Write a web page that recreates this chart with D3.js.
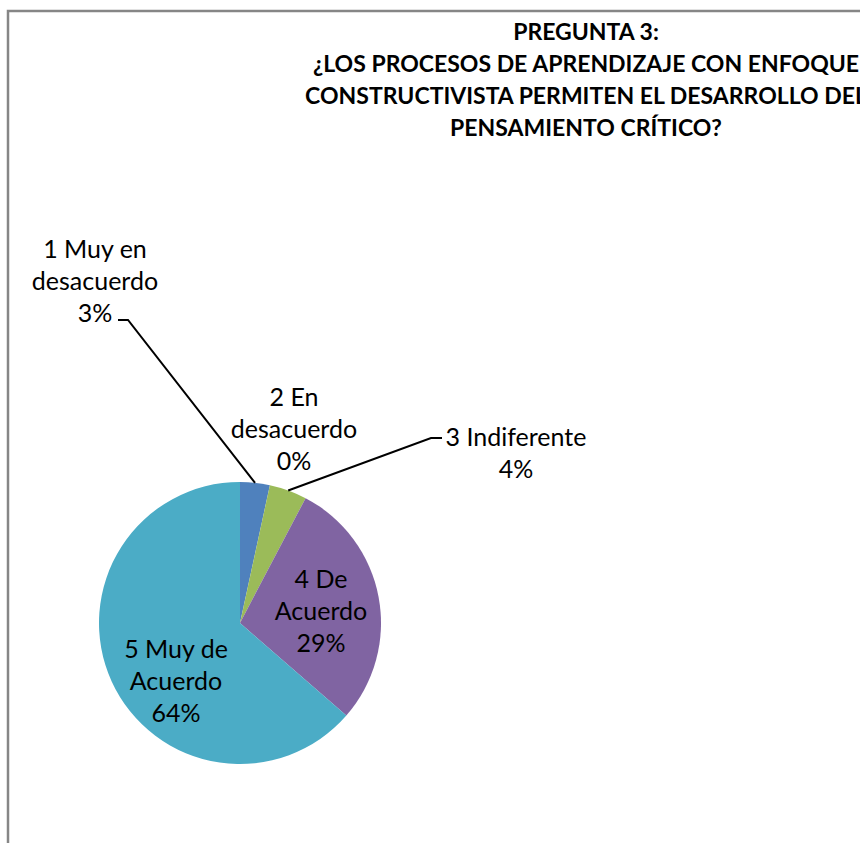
<!DOCTYPE html>
<html><head><meta charset="utf-8">
<script src="https://cdn.jsdelivr.net/npm/d3@7"></script>
<style>body{margin:0;background:#fff;overflow:hidden}svg{display:block}</style>
</head><body>
<svg id="c" width="860" height="843"></svg>
<script>
const titleLines = ["PREGUNTA 3:", "¿LOS PROCESOS DE APRENDIZAJE CON ENFOQUE", "CONSTRUCTIVISTA PERMITEN EL DESARROLLO DEL", "PENSAMIENTO CRÍTICO?"];
const categories = ["1 Muy en desacuerdo", "2 En desacuerdo", "3 Indiferente", "4 De Acuerdo", "5 Muy de Acuerdo"];
const labelLines = [["1 Muy en", "desacuerdo"], ["2 En", "desacuerdo"], ["3 Indiferente"], ["4 De", "Acuerdo"], ["5 Muy de", "Acuerdo"]];
const values = [3.4, 0, 4.3, 28.7, 63.6];
const colors = ["#4F81BD", "#C0504D", "#9BBB59", "#8064A2", "#4BACC6"];

const svg = d3.select("#c");
const FONT = "Lato, 'Open Sans', sans-serif";

// chart border
svg.append("rect").attr("x", 8).attr("y", 11).attr("width", 900).attr("height", 900)
  .attr("fill", "none").attr("stroke", "#868686").attr("stroke-width", 2.5);

// title
const title = svg.append("text").attr("text-anchor", "middle")
  .attr("font-family", FONT).attr("font-weight", "bold").attr("font-size", 23).attr("fill", "#000");
titleLines.forEach((t, i) => title.append("tspan").attr("x", 586).attr("y", 40 + i * 32).text(t));

// pie
const cx = 240, cy = 623, R = 141;
const total = d3.sum(values);
const pie = d3.pie().sort(null).value(d => d)(values);
const arc = d3.arc().innerRadius(0).outerRadius(R);
const g = svg.append("g").attr("transform", `translate(${cx},${cy})`);
g.selectAll("path").data(pie).join("path")
  .attr("d", arc).attr("fill", (d, i) => colors[i]);

const pct = d3.format(".0%");
const outer = (d, r) => { const a = (d.startAngle + d.endAngle) / 2; return [r * Math.sin(a), -r * Math.cos(a)]; };

// label placement (offsets from pie centre) and leader lines
const labelPos = [[-145, -373], [54, -225], [276, -185], [81, -43], [-64, 27]];
const leaders = [0, 2];
const lineGen = d3.line();
leaders.forEach(i => {
  const d = pie[i];
  const p0 = outer(d, R);
  const lp = labelPos[i];
  let pts;
  if (i === 0) pts = [[lp[0] + 23, lp[1] + 70], [lp[0] + 33, lp[1] + 70], p0];
  else pts = [[lp[0] - 74, lp[1]], [lp[0] - 85, lp[1]], p0];
  g.append("path").attr("d", lineGen(pts)).attr("fill", "none").attr("stroke", "#000").attr("stroke-width", 2);
});

pie.forEach((d, i) => {
  const lines = labelLines[i].concat([pct(d.value / total)]);
  const t = g.append("text").attr("text-anchor", "middle")
    .attr("font-family", FONT).attr("font-size", 25).attr("fill", "#000");
  lines.forEach((s, k) => t.append("tspan").attr("x", labelPos[i][0]).attr("y", labelPos[i][1] + k * 32 + 8).text(s));
});
</script>
</body></html>
